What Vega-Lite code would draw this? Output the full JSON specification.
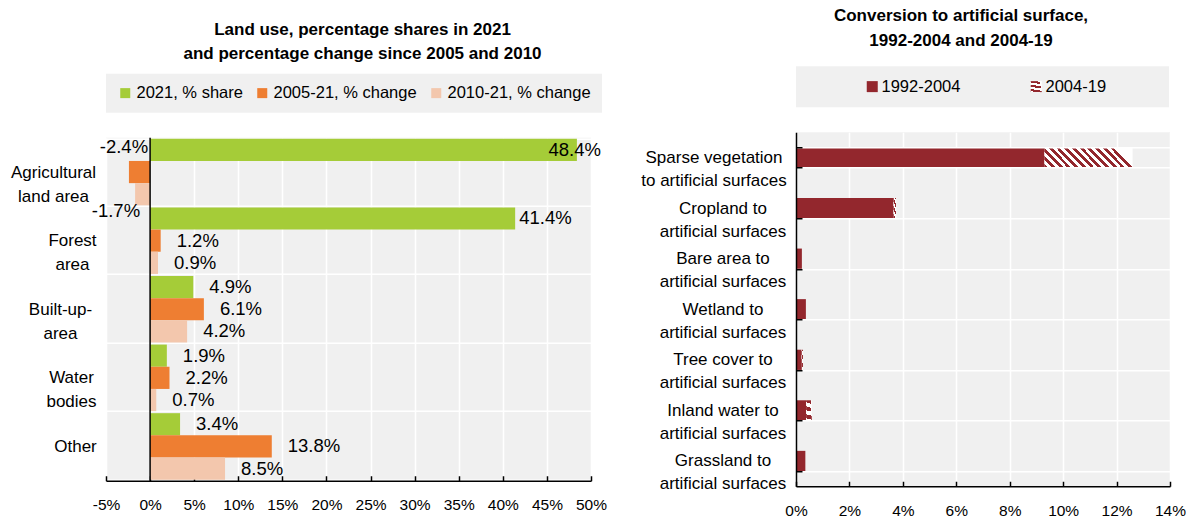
{
  "$schema": "https://vega.github.io/schema/vega-lite/v6.json",
  "padding": {"left": 10, "top": 7, "right": 0, "bottom": 0},
  "background": "white",
  "spacing": 33,
  "center": true,
  "resolve": {"scale": {"color": "independent"}, "legend": {"color": "independent"}},
  "config": {
    "font": "Liberation Sans",
    "view": {"stroke": null, "fill": "#f0f0f0"},
    "axis": {"labelFont": "Liberation Sans", "labelColor": "#000000", "gridColor": "#ffffff", "gridWidth": 1.5, "domainColor": "#000000", "domainWidth": 1.5, "tickColor": "#000000", "tickWidth": 1.5, "labelFontSize": 15.5, "title": null},
    "legend": {"labelFont": "Liberation Sans", "labelColor": "#000000"},
    "title": {"font": "Liberation Sans", "color": "#000000"}
  },
  "hconcat": [
    {
      "width": 485,
      "height": 343,
      "title": {
        "text": ["Land use, percentage shares in 2021", "and percentage change since 2005 and 2010"],
        "fontSize": 17,
        "fontWeight": "bold",
        "lineHeight": 24,
        "anchor": "middle",
        "frame": "group",
        "dx": 14,
        "offset": 11
      },
      "data": {
        "values": [
          {"category": "Agricultural land area", "series": "2021, % share", "value": 48.4},
          {"category": "Agricultural land area", "series": "2005-21, % change", "value": -2.4},
          {"category": "Agricultural land area", "series": "2010-21, % change", "value": -1.7},
          {"category": "Forest area", "series": "2021, % share", "value": 41.4},
          {"category": "Forest area", "series": "2005-21, % change", "value": 1.2},
          {"category": "Forest area", "series": "2010-21, % change", "value": 0.9},
          {"category": "Built-up-area", "series": "2021, % share", "value": 4.9},
          {"category": "Built-up-area", "series": "2005-21, % change", "value": 6.1},
          {"category": "Built-up-area", "series": "2010-21, % change", "value": 4.2},
          {"category": "Water bodies", "series": "2021, % share", "value": 1.9},
          {"category": "Water bodies", "series": "2005-21, % change", "value": 2.2},
          {"category": "Water bodies", "series": "2010-21, % change", "value": 0.7},
          {"category": "Other", "series": "2021, % share", "value": 3.4},
          {"category": "Other", "series": "2005-21, % change", "value": 13.8},
          {"category": "Other", "series": "2010-21, % change", "value": 8.5}
        ]
      },
      "transform": [{"calculate": "(datum.value < 0 ? '-' : '') + format(abs(datum.value), '.1f') + '%'", "as": "label"}],
      "encoding": {
        "x": {
          "field": "value",
          "type": "quantitative",
          "scale": {"domain": [-5, 50], "nice": false},
          "axis": {"values": [-5, 0, 5, 10, 15, 20, 25, 30, 35, 40, 45, 50], "labelExpr": "datum.value + '%'", "labelFlush": false, "grid": true, "tickSize": -5, "labelPadding": 22}
        },
        "y": {"field": "category", "type": "nominal", "sort": null},
        "yOffset": {"field": "series", "type": "nominal", "sort": ["2021, % share", "2005-21, % change", "2010-21, % change"]}
      },
      "layer": [
        {
          "mark": {"type": "bar"},
          "encoding": {
            "y": {
              "field": "category", "type": "nominal", "sort": null,
              "scale": {"paddingInner": 0.03, "paddingOuter": 0.015},
              "axis": {
                "domain": false, "ticks": false, "grid": true, "tickBand": "extent",
                "labelAlign": "center", "labelBaseline": "middle", "labelFontSize": 17, "labelLineHeight": 24,
                "labelLimit": 300, "labelOverlap": false,
                "labelPadding": {"condition": [
                  {"test": "datum.value == 'Agricultural land area'", "value": 53},
                  {"test": "datum.value == 'Forest area'", "value": 34},
                  {"test": "datum.value == 'Built-up-area'", "value": 46},
                  {"test": "datum.value == 'Water bodies'", "value": 35}
                ], "value": 31},
                "labelExpr": "!isString(datum.value) ? '' : datum.value == 'Agricultural land area' ? ['Agricultural', 'land area'] : datum.value == 'Built-up-area' ? ['Built-up-', 'area'] : datum.value == 'Other' ? 'Other' : split(datum.value, ' ')"
              }
            },
            "color": {
              "field": "series", "type": "nominal",
              "scale": {"domain": ["2021, % share", "2005-21, % change", "2010-21, % change"], "range": ["#a5cc38", "#ee7e32", "#f3c7ad"]},
              "legend": {"orient": "top", "direction": "horizontal", "title": null, "fillColor": "#f0f0f0", "padding": 11, "symbolType": "square", "symbolSize": 100, "symbolStrokeWidth": 0, "symbolOffset": 0, "labelOffset": 3, "columnPadding": 11, "labelFontSize": 16.5, "offset": 25, "labelLimit": 300}
            }
          }
        },
        {
          "transform": [{"filter": "datum.value >= 0 && datum.value < 40"}],
          "mark": {"type": "text", "align": "left", "baseline": "middle", "dx": 16, "fontSize": 18.5, "color": "#000000"},
          "encoding": {"text": {"field": "label"}}
        },
        {
          "transform": [{"filter": "datum.value >= 40 && datum.value < 45"}],
          "mark": {"type": "text", "align": "left", "baseline": "middle", "dx": 4, "fontSize": 18.5, "color": "#000000"},
          "encoding": {"text": {"field": "label"}}
        },
        {
          "transform": [{"filter": "datum.value >= 45"}],
          "mark": {"type": "text", "align": "right", "baseline": "middle", "dx": 24, "fontSize": 18.5, "color": "#000000"},
          "encoding": {"text": {"field": "label"}}
        },
        {
          "transform": [{"filter": "datum.value < 0 && datum.series == '2005-21, % change'"}],
          "mark": {"type": "text", "align": "right", "baseline": "middle", "dx": -2, "dy": -25, "fontSize": 18.5, "color": "#000000"},
          "encoding": {"text": {"field": "label"}, "x": {"datum": 0}}
        },
        {
          "transform": [{"filter": "datum.value < 0 && datum.series == '2010-21, % change'"}],
          "mark": {"type": "text", "align": "right", "baseline": "middle", "dx": -10, "dy": 17, "fontSize": 18.5, "color": "#000000"},
          "encoding": {"text": {"field": "label"}, "x": {"datum": 0}}
        },
        {
          "data": {"values": [{"zero": 0}]},
          "mark": {"type": "rule", "color": "#000000", "strokeWidth": 1.5},
          "encoding": {"x": {"field": "zero", "type": "quantitative"}, "y": null, "yOffset": null}
        }
      ]
    },
    {
      "width": 374,
      "height": 354,
      "title": {
        "text": ["Conversion to artificial surface,", "1992-2004 and 2004-19"],
        "fontSize": 17,
        "fontWeight": "bold",
        "lineHeight": 25,
        "anchor": "middle",
        "frame": "group",
        "dx": -22,
        "offset": 16
      },
      "data": {
        "values": [
          {"category": "Sparse vegetation to artificial surfaces", "period": "1992-2004", "value": 9.3},
          {"category": "Sparse vegetation to artificial surfaces", "period": "2004-19", "value": 3.3},
          {"category": "Cropland to artificial surfaces", "period": "1992-2004", "value": 3.65},
          {"category": "Cropland to artificial surfaces", "period": "2004-19", "value": 0.1},
          {"category": "Bare area to artificial surfaces", "period": "1992-2004", "value": 0.22},
          {"category": "Bare area to artificial surfaces", "period": "2004-19", "value": 0},
          {"category": "Wetland to artificial surfaces", "period": "1992-2004", "value": 0.37},
          {"category": "Wetland to artificial surfaces", "period": "2004-19", "value": 0},
          {"category": "Tree cover to artificial surfaces", "period": "1992-2004", "value": 0.21},
          {"category": "Tree cover to artificial surfaces", "period": "2004-19", "value": 0.05},
          {"category": "Inland water to artificial surfaces", "period": "1992-2004", "value": 0.38},
          {"category": "Inland water to artificial surfaces", "period": "2004-19", "value": 0.21},
          {"category": "Grassland to artificial surfaces", "period": "1992-2004", "value": 0.35},
          {"category": "Grassland to artificial surfaces", "period": "2004-19", "value": 0}
        ]
      },
      "mark": {"type": "bar"},
      "encoding": {
        "y": {
          "field": "category", "type": "nominal", "sort": null,
          "scale": {"paddingInner": 0.6, "paddingOuter": 0.3},
          "axis": {
            "domain": true, "ticks": true, "grid": true, "tickBand": "extent", "tickSize": -6, "zindex": 1,
            "labelAlign": "center", "labelBaseline": "middle", "labelFontSize": 17, "labelLineHeight": 23,
            "labelLimit": 300, "labelOverlap": false,
            "labelPadding": {"condition": {"test": "datum.value == 'Sparse vegetation to artificial surfaces'", "value": 88.5}, "value": 79.5},
            "labelExpr": "!isString(datum.value) ? '' : datum.value == 'Sparse vegetation to artificial surfaces' ? ['Sparse vegetation', 'to artificial surfaces'] : [replace(datum.value, ' artificial surfaces', ''), 'artificial surfaces']"
          }
        },
        "x": {
          "field": "value", "type": "quantitative", "stack": "zero",
          "scale": {"domain": [0, 14], "nice": false},
          "axis": {"values": [0, 2, 4, 6, 8, 10, 12, 14], "labelExpr": "datum.value + '%'", "labelFlush": false, "grid": true, "tickSize": -5, "labelPadding": 22}
        },
        "color": {
          "field": "period", "type": "nominal",
          "scale": {
            "domain": ["1992-2004", "2004-19"],
            "range": [
              "#93272d",
              {"expr": "{gradient: 'linear', x1: 0, y1: 1, x2: 1, y2: 0.775, stops: [{offset: 0, color: '#93272d'}, {offset: 0.0417, color: '#93272d'}, {offset: 0.0417, color: '#ffffff'}, {offset: 0.0833, color: '#ffffff'}, {offset: 0.0833, color: '#93272d'}, {offset: 0.125, color: '#93272d'}, {offset: 0.125, color: '#ffffff'}, {offset: 0.1667, color: '#ffffff'}, {offset: 0.1667, color: '#93272d'}, {offset: 0.2083, color: '#93272d'}, {offset: 0.2083, color: '#ffffff'}, {offset: 0.25, color: '#ffffff'}, {offset: 0.25, color: '#93272d'}, {offset: 0.2917, color: '#93272d'}, {offset: 0.2917, color: '#ffffff'}, {offset: 0.3333, color: '#ffffff'}, {offset: 0.3333, color: '#93272d'}, {offset: 0.375, color: '#93272d'}, {offset: 0.375, color: '#ffffff'}, {offset: 0.4167, color: '#ffffff'}, {offset: 0.4167, color: '#93272d'}, {offset: 0.4583, color: '#93272d'}, {offset: 0.4583, color: '#ffffff'}, {offset: 0.5, color: '#ffffff'}, {offset: 0.5, color: '#93272d'}, {offset: 0.5417, color: '#93272d'}, {offset: 0.5417, color: '#ffffff'}, {offset: 0.5833, color: '#ffffff'}, {offset: 0.5833, color: '#93272d'}, {offset: 0.625, color: '#93272d'}, {offset: 0.625, color: '#ffffff'}, {offset: 0.6667, color: '#ffffff'}, {offset: 0.6667, color: '#93272d'}, {offset: 0.7083, color: '#93272d'}, {offset: 0.7083, color: '#ffffff'}, {offset: 0.75, color: '#ffffff'}, {offset: 0.75, color: '#93272d'}, {offset: 0.7917, color: '#93272d'}, {offset: 0.7917, color: '#ffffff'}, {offset: 0.8333, color: '#ffffff'}, {offset: 0.8333, color: '#93272d'}, {offset: 0.875, color: '#93272d'}, {offset: 0.875, color: '#ffffff'}, {offset: 0.9167, color: '#ffffff'}, {offset: 0.9167, color: '#93272d'}, {offset: 0.9583, color: '#93272d'}, {offset: 0.9583, color: '#ffffff'}, {offset: 1, color: '#ffffff'}]}"}
            ]
          },
          "legend": {"orient": "top", "direction": "horizontal", "title": null, "fillColor": "#f0f0f0", "padding": 12, "symbolType": "square", "symbolSize": 121, "symbolStrokeWidth": 0, "symbolOffset": 56, "labelOffset": 1, "columnPadding": 11, "labelFontSize": 16.5, "offset": 25, "labelLimit": 400,
            "labelExpr": "datum.label == '2004-19' ? datum.label + '\u00a0\u00a0\u00a0\u00a0\u00a0\u00a0\u00a0\u00a0\u00a0\u00a0\u00a0\u200b' : datum.label"}
        }
      }
    }
  ]
}
